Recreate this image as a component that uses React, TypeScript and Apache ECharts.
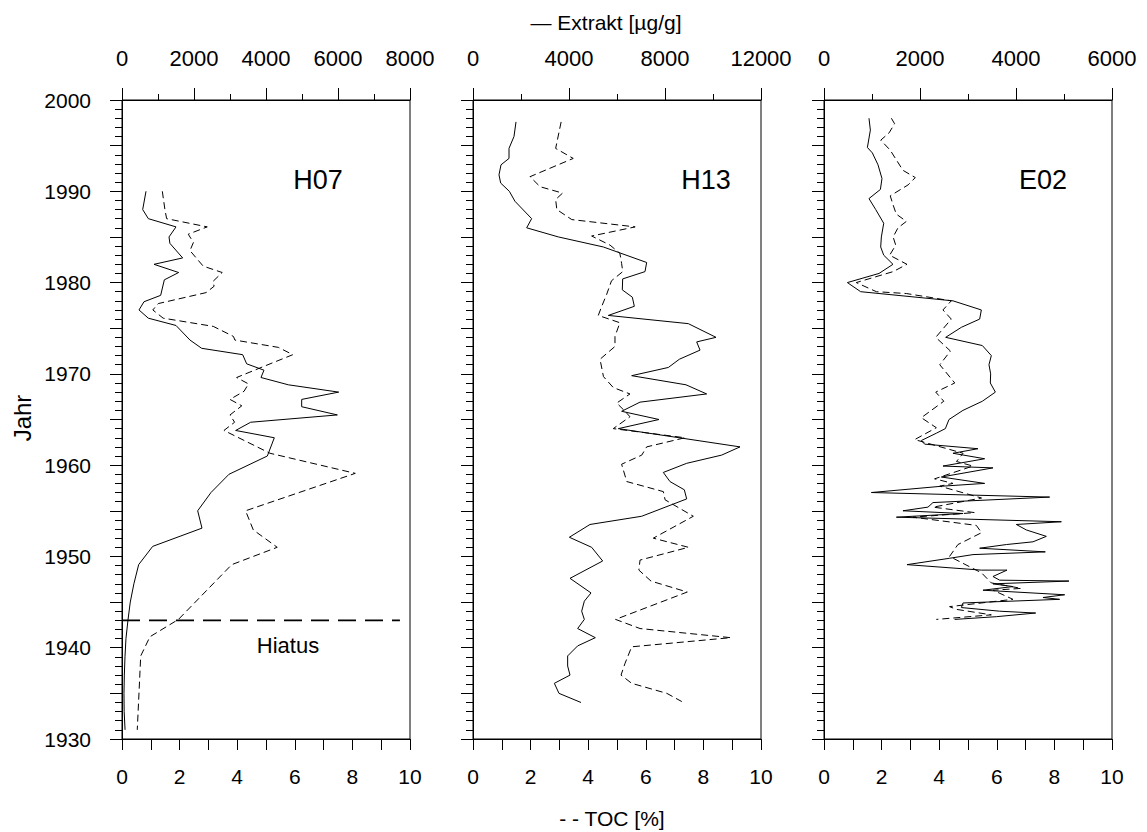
import React, { useEffect, useRef } from 'react';
import * as echarts from 'echarts';

// ---------- Data (x value, year) ----------
const yearTicks = [1930, 1940, 1950, 1960, 1970, 1980, 1990, 2000];
const tocTicks = [0, 2, 4, 6, 8, 10];

// H07
const h07ExtYears = [1990.0, 1988.0, 1987.0, 1986.1, 1985.0, 1984.3, 1982.7, 1982.0, 1981.1, 1980.3, 1978.6, 1977.9, 1977.0, 1976.1, 1975.3, 1973.7, 1972.8, 1972.1, 1971.1, 1970.4, 1969.6, 1968.8, 1968.0, 1967.2, 1966.4, 1965.5, 1964.7, 1963.8, 1963.0, 1961.0, 1959.0, 1957.0, 1955.0, 1953.1, 1951.1, 1949.1, 1947, 1945, 1943, 1941, 1939, 1937, 1935, 1933, 1931];
const h07ExtVals = [667, 575, 731, 1500, 1306, 1330, 1685, 889, 1574, 1176, 1074, 611, 472, 731, 1500, 1889, 2213, 3352, 3463, 3944, 3861, 4620, 6019, 4991, 4991, 5982, 3574, 3157, 4231, 4037, 2972, 2472, 2102, 2222, 852, 463, 330, 230, 165, 110, 83, 65, 55, 60, 85];
const h07TocYears = [1990.0, 1988.0, 1987.0, 1986.1, 1985.3, 1984.4, 1983.5, 1981.8, 1981.1, 1980.1, 1979.6, 1978.9, 1977.7, 1977.0, 1976.1, 1975.2, 1974.1, 1973.7, 1972.9, 1972.1, 1970.8, 1969.6, 1968.9, 1968.1, 1967.2, 1966.5, 1965.5, 1964.7, 1963.8, 1961.3, 1959.1, 1955.0, 1952.9, 1951.0, 1949.1, 1943.1, 1941.2, 1939.1, 1931.0];
const h07TocVals = [1.40, 1.49, 1.55, 2.96, 2.30, 2.48, 2.36, 2.82, 3.48, 3.15, 3.20, 2.92, 1.26, 1.07, 1.43, 3.17, 3.87, 3.92, 5.43, 5.93, 4.91, 3.98, 4.39, 4.24, 3.75, 4.16, 3.75, 3.91, 3.54, 5.14, 8.10, 4.29, 4.56, 5.39, 3.81, 1.96, 0.97, 0.65, 0.53];
const hiatusYear = 1943;
const hiatusToc = [0, 9.65];

// H13
const h13ExtYears = [1997.6, 1996.0, 1994.7, 1993.6, 1992.9, 1991.8, 1990.9, 1990.0, 1988.9, 1987.0, 1986.0, 1985.0, 1983.9, 1982.2, 1981.2, 1980.4, 1979.2, 1978.4, 1977.4, 1976.4, 1975.5, 1974.0, 1973.5, 1972.6, 1971.6, 1970.7, 1969.8, 1968.8, 1967.8, 1966.9, 1965.9, 1965.0, 1964.0, 1962.0, 1961.1, 1960.2, 1959.2, 1958.2, 1957.3, 1956.3, 1954.4, 1953.5, 1952.1, 1951.0, 1949.5, 1947.6, 1946.0, 1945.1, 1944.0, 1943.1, 1942.1, 1941.1, 1940.2, 1939.1, 1938.0, 1937.0, 1936.1, 1935.0, 1934.0];
const h13ExtVals = [1792, 1708, 1500, 1500, 1167, 1083, 1153, 1514, 1750, 2444, 2236, 3556, 5431, 7236, 7167, 6236, 6222, 6639, 6722, 5639, 8972, 10125, 9320, 9460, 8597, 8139, 6611, 8875, 9736, 6958, 6194, 7750, 6056, 11125, 10361, 8903, 7930, 8208, 8805, 8903, 7028, 4875, 4014, 4944, 5403, 4042, 4917, 4639, 4528, 4639, 4361, 5097, 4361, 3944, 3944, 4042, 3389, 3583, 4500];
const h13TocYears = [1997.6, 1994.7, 1993.6, 1991.6, 1990.5, 1989.8, 1989.1, 1988.0, 1986.9, 1986.1, 1985.1, 1984.1, 1983.2, 1982.1, 1981.2, 1980.2, 1978.7, 1977.4, 1976.4, 1975.6, 1974.1, 1973.0, 1971.6, 1969.7, 1968.5, 1967.8, 1966.8, 1965.9, 1965.3, 1964.0, 1963.0, 1962.0, 1961.1, 1960.1, 1958.2, 1957.1, 1956.2, 1954.4, 1952.0, 1951.0, 1949.6, 1948.5, 1947.3, 1946.1, 1943.1, 1942.1, 1941.1, 1940.1, 1938.3, 1937.0, 1936.1, 1935.0, 1934.1];
const h13TocVals = [3.06, 2.87, 3.48, 1.98, 2.33, 3.11, 2.87, 2.91, 3.43, 5.63, 4.12, 4.76, 5.10, 5.16, 5.20, 4.81, 4.64, 4.47, 4.35, 5.10, 4.93, 4.93, 4.41, 4.53, 4.87, 5.45, 4.99, 5.28, 5.45, 4.87, 7.36, 6.03, 5.86, 5.16, 5.34, 6.61, 6.67, 7.65, 6.26, 7.48, 5.80, 5.76, 6.18, 7.44, 4.95, 5.80, 8.95, 5.51, 5.28, 5.14, 5.51, 6.73, 7.25];

// E02
const e02ExtYears = [1998.0, 1996.7, 1994.8, 1994.2, 1992.9, 1991.4, 1990.2, 1989.2, 1988.0, 1986.5, 1985.0, 1983.9, 1983.0, 1982.0, 1981.0, 1980.0, 1979.0, 1978.0, 1977.0, 1976.0, 1975.1, 1974.0, 1973.1, 1972.0, 1971.0, 1970.0, 1969.0, 1968.0, 1967.0, 1966.0, 1965.0, 1964.0, 1963.5, 1962.7, 1962.3, 1961.8, 1961.3, 1960.7, 1959.9, 1959.7, 1958.7, 1958.0, 1957.7, 1957.0, 1956.5, 1955.9, 1955.4, 1955.0, 1954.7, 1954.3, 1953.8, 1953.5, 1952.9, 1952.2, 1951.6, 1951.3, 1950.9, 1950.5, 1950.2, 1949.8, 1949.1, 1948.5, 1948.5, 1947.8, 1947.4, 1947.3, 1947.0, 1946.7, 1946.3, 1945.8, 1945.5, 1945.3, 1944.9, 1944.4, 1944.0, 1943.8, 1943.4, 1943.1];
const e02ExtVals = [937, 966, 904, 1008, 1125, 1208, 1175, 937, 1077, 1244, 1195, 1181, 1244, 1437, 1146, 487, 764, 2687, 3278, 3243, 2862, 2535, 3299, 3486, 3437, 3472, 3465, 3570, 3299, 2895, 2604, 2528, 2341, 2029, 2097, 3208, 2687, 3347, 2479, 3520, 2445, 3347, 2479, 987, 4701, 2270, 2166, 1645, 2895, 1508, 4945, 4007, 4216, 4632, 4354, 3799, 3243, 4611, 3104, 2618, 1729, 3278, 3812, 3520, 3659, 5103, 3520, 3937, 3312, 5014, 4562, 4909, 2895, 2862, 3659, 4410, 3591, 2722];
const e02TocYears = [1998.0, 1997.4, 1996.4, 1995.6, 1994.5, 1992.3, 1991.5, 1990.7, 1989.5, 1988.5, 1987.5, 1986.7, 1986.0, 1985.0, 1984.1, 1983.0, 1982.0, 1981.2, 1980.0, 1979.0, 1978.8, 1978.0, 1977.0, 1976.0, 1974.0, 1972.5, 1971.0, 1969.0, 1968.0, 1967.0, 1965.2, 1964.1, 1962.8, 1961.3, 1960.4, 1959.9, 1958.5, 1958.0, 1957.7, 1956.4, 1955.4, 1954.8, 1954.3, 1953.4, 1952.6, 1951.3, 1950.0, 1948.2, 1947.1, 1946.5, 1946.3, 1945.3, 1944.5, 1944.2, 1943.6, 1943.1];
const e02TocVals = [2.34, 2.45, 2.26, 1.97, 2.30, 2.74, 3.17, 2.92, 2.30, 2.40, 2.51, 2.86, 2.57, 2.40, 2.49, 2.28, 2.88, 2.40, 1.12, 1.82, 2.86, 4.42, 4.13, 4.42, 3.88, 4.39, 4.02, 4.54, 3.88, 4.16, 3.38, 3.90, 3.15, 4.83, 4.60, 5.17, 3.84, 4.48, 4.02, 5.47, 3.79, 5.23, 3.09, 5.29, 5.47, 4.65, 4.36, 5.47, 5.81, 6.85, 5.87, 6.56, 4.36, 4.60, 5.81, 3.90];

const panelNames = ['H07', 'H13', 'E02'];
const extMax = [8000, 12000, 6000];
const extInterval = [2000, 4000, 2000];

const pairs = (xs: number[], ys: number[]) => xs.map((x, i) => [x, ys[i]]);

const FONT = '"Liberation Sans", Arial, sans-serif';
const BLACK = '#000';

export default function App() {
  const ref = useRef<HTMLDivElement>(null);
  useEffect(() => {
    if (!ref.current) return;
    const chart = echarts.init(ref.current, null, { renderer: 'svg' });
    const lefts = [122, 473, 824];
    const W = 288;
    const grids = lefts.map((l) => ({
      left: l, top: 100, width: W, height: 639, show: true,
      borderColor: BLACK, borderWidth: 1, backgroundColor: 'transparent', containLabel: false,
    }));
    const axisLine = { show: true, lineStyle: { color: BLACK, width: 1 } };
    const xAxes: any[] = [];
    const yAxes: any[] = [];
    lefts.forEach((_, i) => {
      xAxes.push({
        type: 'value', gridIndex: i, position: 'bottom', min: 0, max: 10, interval: 1,
        axisLine, splitLine: { show: false },
        axisTick: { show: true, inside: false, length: 11, lineStyle: { color: BLACK } },
        axisLabel: {
          show: true, margin: 27, color: BLACK, fontSize: 21, fontFamily: FONT,
          formatter: (v: number) => (tocTicks.includes(v) ? String(v) : ''),
        },
      });
      xAxes.push({
        type: 'value', gridIndex: i, position: 'top', min: 0, max: extMax[i], interval: extInterval[i],
        axisLine, splitLine: { show: false },
        axisTick: { show: true, inside: false, length: 12, lineStyle: { color: BLACK } },
        minorTick: { show: true, splitNumber: 2, length: 6, lineStyle: { color: BLACK } },
        minorSplitLine: { show: false },
        axisLabel: {
          show: true, margin: 31, color: BLACK, fontSize: 22, fontFamily: FONT,
          formatter: (v: number) => String(v),
        },
      });
      yAxes.push({
        type: 'value', gridIndex: i, min: 1930, max: 2000, interval: 5,
        axisLine, splitLine: { show: false },
        axisTick: { show: true, inside: false, length: 12, lineStyle: { color: BLACK } },
        minorTick: { show: true, splitNumber: 5, length: 7, lineStyle: { color: BLACK } },
        minorSplitLine: { show: false },
        axisLabel: {
          show: i === 0, margin: 31, color: BLACK, fontSize: 21, fontFamily: FONT,
          formatter: (v: number) => (yearTicks.includes(v) ? String(v) : ''),
        },
      });
    });

    const solid = (data: number[][], xi: number, yi: number) => ({
      type: 'line', data, xAxisIndex: xi, yAxisIndex: yi, symbol: 'none', showSymbol: false,
      lineStyle: { color: BLACK, width: 1 }, silent: true,
    });
    const dashed = (data: number[][], xi: number, yi: number) => ({
      type: 'line', data, xAxisIndex: xi, yAxisIndex: yi, symbol: 'none', showSymbol: false,
      lineStyle: { color: BLACK, width: 1, type: [7, 4] }, silent: true,
    });

    const series: any[] = [
      solid(pairs(h07ExtVals, h07ExtYears), 1, 0),
      dashed(pairs(h07TocVals, h07TocYears), 0, 0),
      {
        type: 'line', data: hiatusToc.map((x) => [x, hiatusYear]), xAxisIndex: 0, yAxisIndex: 0,
        symbol: 'none', lineStyle: { color: BLACK, width: 1.6, type: [18, 9] }, silent: true,
      },
      solid(pairs(h13ExtVals, h13ExtYears), 3, 1),
      dashed(pairs(h13TocVals, h13TocYears), 2, 1),
      solid(pairs(e02ExtVals, e02ExtYears), 5, 2),
      dashed(pairs(e02TocVals, e02TocYears), 4, 2),
    ];

    const txt = (text: string, x: number, y: number, size: number, extra: any = {}) => ({
      type: 'text', x, y, silent: true,
      style: { text, fontSize: size, fontFamily: FONT, fill: BLACK, align: 'center', verticalAlign: 'middle' },
      ...extra,
    });

    const panelX = [318, 706, 1043];
    const graphic: any[] = [
      ...panelNames.map((n, i) => txt(n, panelX[i], 180, 27)),
      txt('Hiatus', 288, 645, 22),
      txt('— Extrakt [µg/g]', 606, 22, 21),
      txt('- - TOC [%]', 612, 818, 21),
      txt('Jahr', 22, 418, 24, { rotation: Math.PI / 2 }),
    ];

    chart.setOption({
      animation: false,
      backgroundColor: '#fff',
      grid: grids,
      xAxis: xAxes,
      yAxis: yAxes,
      series,
      graphic,
    });
    return () => chart.dispose();
  }, []);
  return (
    <div
      ref={ref}
      style={{ position: 'fixed', left: 0, top: 0, width: 1147, height: 832, background: '#fff' }}
    />
  );
}
